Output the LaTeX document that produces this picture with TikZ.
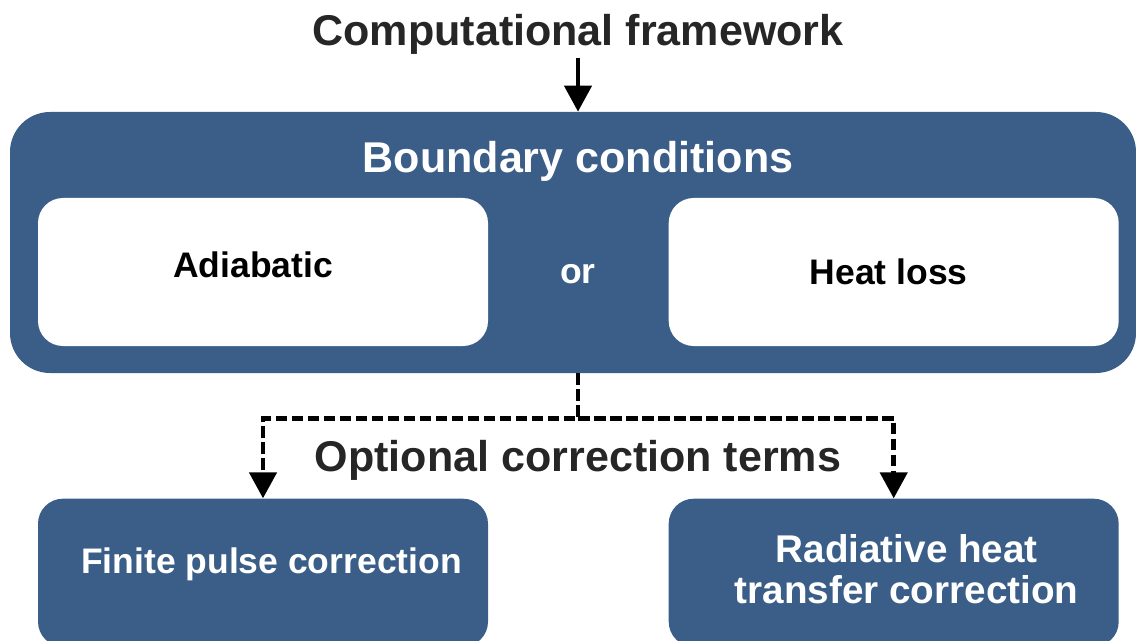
\documentclass[tikz,border=0pt]{standalone}
\usepackage{fontspec}
\setmainfont{Liberation Sans}
\usetikzlibrary{arrows.meta,positioning}
\definecolor{boxblue}{RGB}{58,94,136}
\definecolor{textgray}{RGB}{38,38,38}
\tikzset{
    %Define standard arrow tip
    >={Triangle[length=0.52cm,width=0.54cm]},
    %Define style for boxes
    outerbox/.style={
           rectangle,
           rounded corners=0.8cm,
           fill=boxblue,
           minimum width=22.52cm,
           minimum height=5.22cm},
    innerbox/.style={
           rectangle,
           rounded corners=0.5cm,
           fill=white,
           minimum width=9cm,
           minimum height=2.96cm},
    corrbox/.style={
           rectangle,
           rounded corners=0.5cm,
           fill=boxblue,
           minimum width=9cm,
           minimum height=2.96cm},
    %Define style for texts
    bigtext/.style={
           font=\fontsize{24.5}{29}\selectfont\bfseries,
           inner sep=0pt},
    smalltext/.style={
           font=\fontsize{20.2}{22.2}\selectfont\bfseries,
           inner sep=0pt,
           align=center},
    % Define arrow style
    pil/.style={
           ->,
           line width=0.09cm,
           shorten <=0.06cm},
    dashpil/.style={
           ->,
           line width=0.09cm,
           dash pattern=on 0.23cm off 0.09cm}
}
\begin{document}
\begin{tikzpicture}
\clip (0,0) rectangle (22.72,-12.82);
 %nodes
\node[bigtext, anchor=base, text=textgray] (title) at (11.56,-0.92) {Computational framework};
\node[outerbox] (bc) at (11.46,-4.85) {};
\node[bigtext, anchor=base, text=white] (bctitle) at (11.56,-3.46) {Boundary conditions};
\node[innerbox] (adia) at (5.26,-5.44) {};
\node[innerbox, right=3.6cm of adia] (heat) {};
\node[corrbox, below=3.04cm of adia] (fpc) {};
\node[corrbox, below=3.04cm of heat] (rht) {};
 %texts
\node[smalltext, anchor=base] (adiatext) at ([xshift=-0.2cm, yshift=-0.1cm]adia.center) {Adiabatic};
\node[smalltext, anchor=base] (heattext) at ([xshift=-0.1cm, yshift=-0.24cm]heat.center) {Heat loss};
\node[smalltext, anchor=base, text=white] (or) at ([yshift=-0.22cm]adia.center -| title) {or};
\node[bigtext, anchor=base, text=textgray] (opt) at (11.56,-9.42) {Optional correction terms};
\node[smalltext, anchor=base, text=white] (fpctext) at ([xshift=0.17cm, yshift=-0.02cm]fpc.center) {Finite pulse correction};
\node[smalltext, text=white, font=\fontsize{22}{22.8}\selectfont\bfseries] (rhttext) at ([xshift=0.26cm, yshift=0.07cm]rht.center) {Radiative heat\\transfer correction};
 %connectors
\draw[pil] (title) -- (title |- bc.north);
\path (title |- bc.south) ++(0,-0.9) coordinate (split);
\draw[dashpil] (title |- bc.south) -- (split) -| (fpc.north);
\draw[dashpil] (split) -| (rht.north);
\end{tikzpicture}
\end{document}
